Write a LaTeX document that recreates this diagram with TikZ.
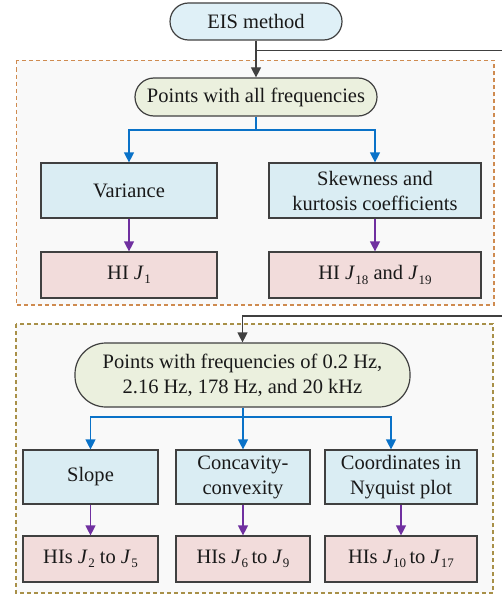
\documentclass[tikz,border=0pt]{standalone}
\usepackage{fontspec}
\setmainfont{Liberation Serif}
\usetikzlibrary{arrows.meta,calc}
\definecolor{boxline}{HTML}{404040}
\definecolor{pillblue}{HTML}{DFF0F7}
\definecolor{boxblue}{HTML}{DAEDF3}
\definecolor{pillgreen}{HTML}{EBF0DE}
\definecolor{boxpink}{HTML}{F2DCDB}
\definecolor{arrblue}{HTML}{0A72C8}
\definecolor{arrpurple}{HTML}{7030A0}
\definecolor{dashorange}{HTML}{CF8B50}
\definecolor{dasholive}{HTML}{A89048}
\definecolor{panelbg}{HTML}{F9F9F9}
\newcommand\Jsub[1]{\textit{J}\kern0.02em\raisebox{-0.45ex}{\fontsize{13}{13}\selectfont #1}}
\tikzset{
  base/.style={draw=boxline, line width=1.2pt, inner sep=0pt, align=center,
    font=\fontsize{20.5}{25}\selectfont, text=black!90},
  pill/.style={base, rounded corners=#1},
  methodbox/.style={base, fill=boxblue},
  hibox/.style={base, fill=boxpink},
  panel/.style={dashed, dash pattern=on 4pt off 3pt, line width=1.3pt, fill=panelbg},
  flow/.style={draw=black!75, line width=1.2pt, -{Triangle[width=10pt,length=10pt]}},
  bluearr/.style={draw=arrblue, line width=1.2pt, -{Triangle[width=10pt,length=10pt]}},
  purparr/.style={draw=arrpurple, line width=1.2pt, -{Triangle[width=10pt,length=10pt]}},
}
\begin{document}
\begin{tikzpicture}[x=1pt,y=-1pt]
\useasboundingbox (0,0) rectangle (501,594);

% dashed panels
\draw[panel, draw=dashorange] (16.5,60.5) rectangle (494,305);
\draw[panel, draw=dasholive] (16,324) rectangle (493,593);

% top of the flow
\node[pill=18.5pt, fill=pillblue, minimum width=172pt, minimum height=37pt] (eis) at (256,21.5) {EIS method};
\node[pill=19pt, fill=pillgreen, minimum width=242pt, minimum height=38pt] (allf) at (256,97) {Points with all frequencies};

% first panel
\node[methodbox, minimum width=176pt, minimum height=55pt] (var) at (129,190.5) {Variance};
\node[methodbox, minimum width=212pt, minimum height=55pt] (skew) at (375,190.5) {Skewness and\\kurtosis coefficients};
\node[hibox, minimum width=176pt, minimum height=46pt] (hi1) at (129,275) {HI \Jsub{1}};
\node[hibox, minimum width=212pt, minimum height=46pt] (hi18) at (375,275) {HI \Jsub{18} and \Jsub{19}};

% second panel
\node[pill=31pt, fill=pillgreen, minimum width=335pt, minimum height=64pt] (self) at (242.5,375) {Points with frequencies of 0.2 Hz,\\2.16 Hz, 178 Hz, and 20 kHz};
\node[methodbox, minimum width=135pt, minimum height=54pt] (slope) at (90.5,477) {Slope};
\node[methodbox, minimum width=134pt, minimum height=54pt] (conc) at (243,477) {Concavity-\\convexity};
\node[methodbox, minimum width=152pt, minimum height=54pt] (nyq) at (401,477) {Coordinates in\\Nyquist plot};
\node[hibox, minimum width=135pt, minimum height=46pt] (hi2) at (90.5,559) {HIs \Jsub{2} to \Jsub{5}};
\node[hibox, minimum width=134pt, minimum height=46pt] (hi6) at (243,559) {HIs \Jsub{6}\,to \Jsub{9}};
\node[hibox, minimum width=152pt, minimum height=46pt] (hi10) at (401,559) {HIs \Jsub{10}\,to \Jsub{17}};

% junction points
\coordinate (split) at (256,50.5);
\coordinate (ret) at (503,316);
\coordinate (fork1) at (256,130);
\coordinate (fork2) at (243,417);

% connectors
\draw[flow] (eis.south) -- (allf.north);
\draw[flow] (split) -| (ret) -| (self.north);
\draw[draw=arrblue, line width=1.2pt] (allf.south) -- (fork1);
\draw[bluearr] (fork1) -| (var.north);
\draw[bluearr] (fork1) -| (skew.north);
\draw[purparr] (var.south) -- (hi1.north);
\draw[purparr] (skew.south) -- (hi18.north);

\draw[draw=arrblue, line width=1.2pt] (self.south -| fork2) -- (fork2);
\draw[bluearr] (fork2) -| (slope.north);
\draw[bluearr] (fork2) -- (conc.north);
\draw[bluearr] (fork2) -| ($(nyq.north)+(-10,0)$);
\draw[purparr] (slope.south) -- (hi2.north);
\draw[purparr] (conc.south) -- (hi6.north);
\draw[purparr] (nyq.south) -- (hi10.north);
\end{tikzpicture}
\end{document}
